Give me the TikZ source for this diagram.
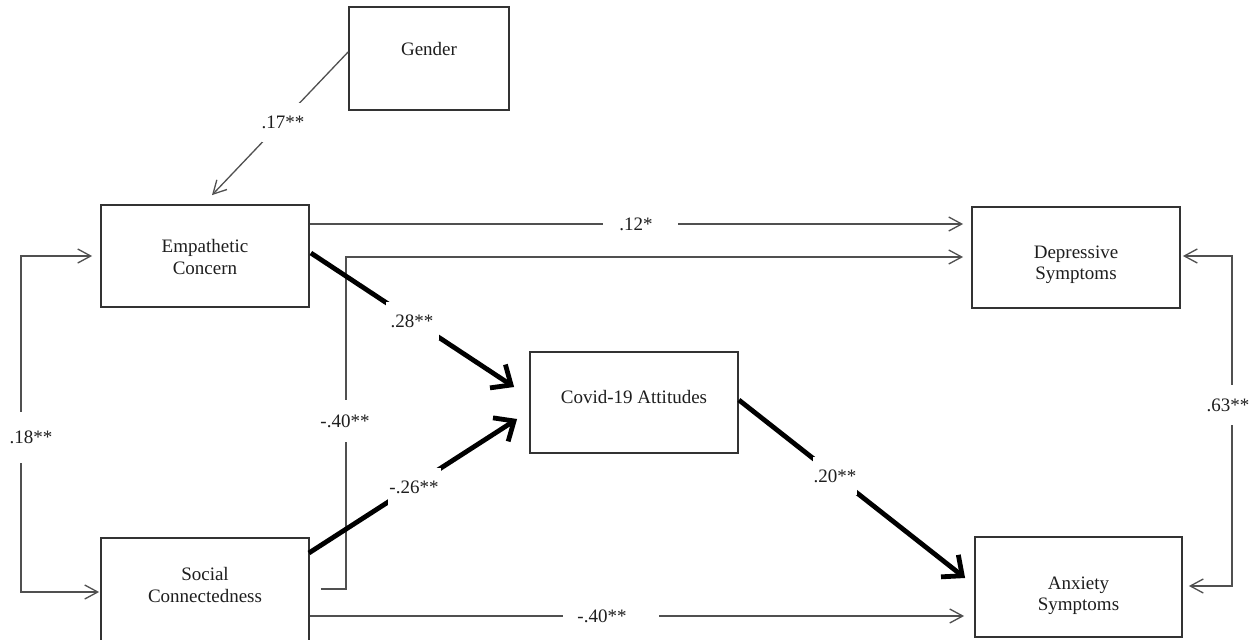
\documentclass[tikz,border=0pt]{standalone}
\usepackage{fontspec}
\setmainfont{Liberation Serif}
\usetikzlibrary{arrows.meta,calc}
\definecolor{txt}{HTML}{1E1E1E}
\definecolor{thinln}{HTML}{505050}
\definecolor{boxln}{HTML}{333333}
\tikzset{
  every node/.style={font=\fontsize{19}{21.5}\selectfont, text=txt},
  box/.style={draw=boxln, line width=1.8pt, fill=white, inner sep=0pt},
  boxtext/.style={align=center, inner sep=0pt},
  lbl/.style={fill=white, inner sep=0pt, align=center},
  thinarr/.style={draw=thinln, line width=1.3pt, -{Straight Barb[length=13pt,width=14pt]}},
  thinboth/.style={draw=thinln, line width=1.3pt, {Straight Barb[length=13pt,width=14pt]}-{Straight Barb[length=13pt,width=14pt]}},
  thickarr/.style={draw=black, line width=4.8pt, -{Straight Barb[length=16pt,width=28pt]}}
}
\begin{document}
\begin{tikzpicture}[x=1pt,y=-1pt]
\fill[white] (0,0) rectangle (1251,640);
\useasboundingbox (0,0) rectangle (1251,640);

% boxes
\node[box, minimum width=160, minimum height=103,
      label={[boxtext,yshift=9.5pt]center:Gender}] (gen) at (429,58.5) {};
\node[box, minimum width=208, minimum height=102,
      label={[boxtext,yshift=-1pt]center:Empathetic\\Concern}] (emp) at (205,256) {};
\node[box, minimum width=208, minimum height=104,
      label={[boxtext,yshift=5pt]center:Social\\Connectedness}] (soc) at (205,590) {};
\node[box, minimum width=208, minimum height=101,
      label={[boxtext,yshift=5.5pt]center:Covid-19 Attitudes}] (cov) at (634,402.5) {};
\node[box, minimum width=208, minimum height=101,
      label={[boxtext,yshift=-7.5pt]center:Depressive\\Symptoms}] (dep) at (1076,257.5) {};
\node[box, minimum width=207, minimum height=100,
      label={[boxtext,yshift=-9pt]center:Anxiety\\Symptoms}] (anx) at (1078.5,587) {};

% thin connectors
\draw[thinarr] ($(gen.west)+(0,-6.5)$) -- ($(emp.north)+(7,-9)$);
\draw[thinboth] ($(emp.west)+(-8,0)$) -- ++(-71,0) |- ($(soc.west)+(-1,2)$);
\draw[thinarr] ($(emp.east)+(0,-32)$) -- ($(dep.west)+(-8,-33.5)$);
\draw[thinarr] ($(soc.east)+(11,-1)$) -- ++(25,0) |- ($(dep.west)+(-8,-0.5)$);
\draw[thinarr] ($(soc.east)+(0,26)$) -- ($(anx.west)+(-10,29)$);
\draw[thinboth] ($(dep.east)+(2,-1.5)$) -- ++(49,0) |- ($(anx.east)+(6,-1)$);

% thick connectors
\draw[thickarr] ($(emp.east)+(1,-3)$) -- ($(cov.west)+(-15,-15.5)$);
\draw[thickarr] ($(soc.east)+(-1,-37)$) -- ($(cov.west)+(-12,16.5)$);
\draw[thickarr] ($(cov.east)+(0,-2.5)$) -- ($(anx.west)+(-9,-9)$);

% labels
\node[lbl, minimum height=39] (l17) at (283,122.5) {.17**};
\node[lbl, minimum height=51] (l18) at (31,437.5) {.18**};
\node[lbl, minimum width=75] (l12) at (640,224) {.12*\hspace{8pt}};
\node[lbl, minimum height=42] (l40a) at (345,421) {-.40**};
\node[lbl, minimum width=53, minimum height=38] (l28) at (412,321) {.28**};
\node[lbl, minimum width=53, minimum height=39] (l26) at (414,487) {-.26**};
\node[lbl, minimum width=44, minimum height=38] (l20) at (835,476) {.20**};
\node[lbl, minimum width=96] (l40b) at (611,616) {-.40**\hspace{18pt}};
\node[lbl, minimum height=40] (l63) at (1228,405) {.63**};
\end{tikzpicture}
\end{document}
